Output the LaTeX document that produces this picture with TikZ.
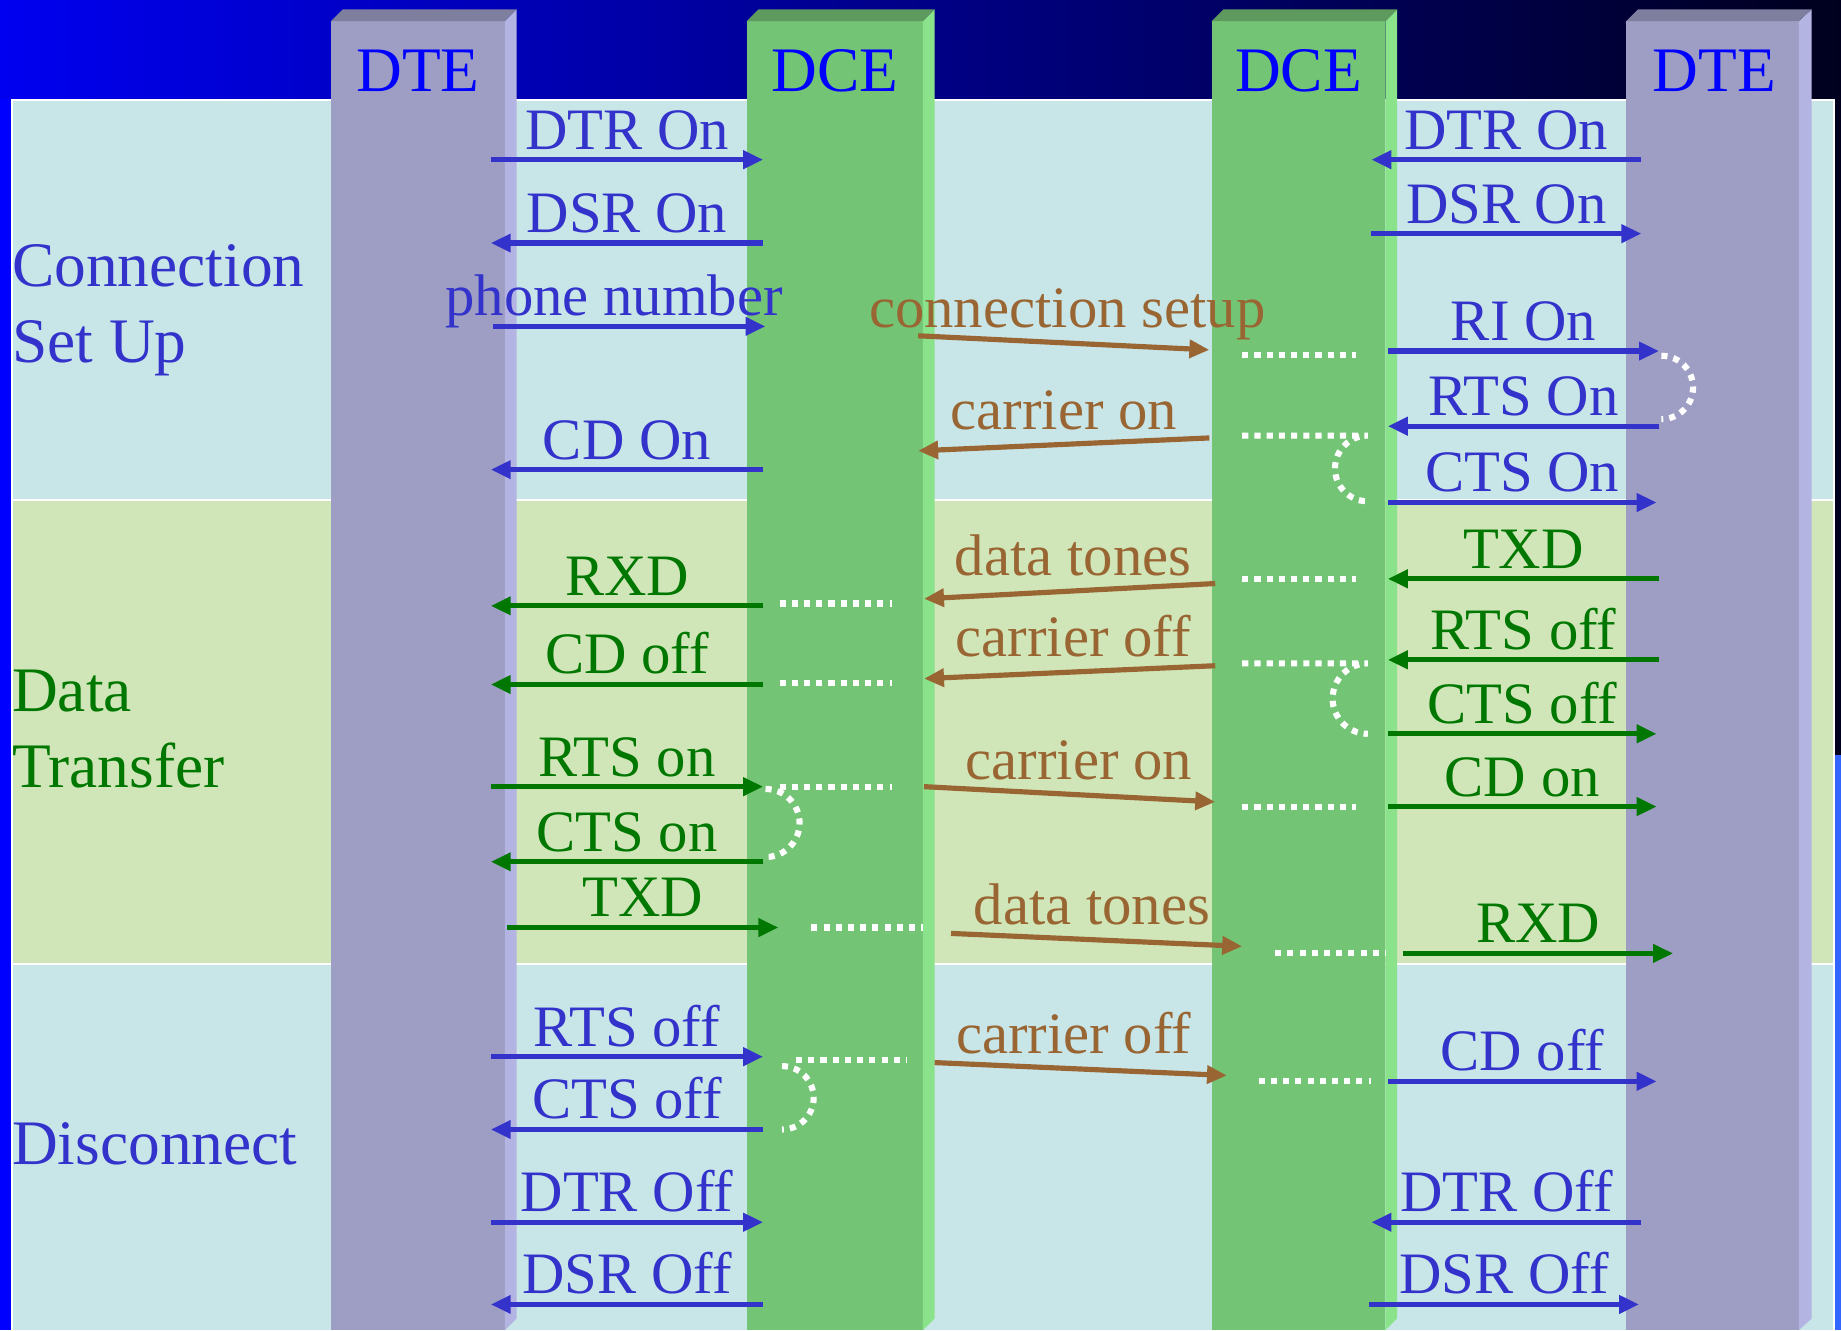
\documentclass[tikz,border=0pt]{standalone}
\usepackage{fontspec}
\setmainfont{Liberation Serif}
\usetikzlibrary{arrows.meta}

\definecolor{hdrblue}{HTML}{0000F0}
\definecolor{hdrmid}{HTML}{0000C0}
\definecolor{hdrdark}{HTML}{00001E}
\definecolor{edgeblue}{HTML}{3366FF}
\definecolor{hdrtext}{HTML}{0000FF}
\definecolor{bandcyan}{HTML}{C8E6E8}
\definecolor{bandgreen}{HTML}{D0E6B8}
\definecolor{dtefront}{HTML}{9E9EC4}
\definecolor{dteside}{HTML}{B4B4E2}
\definecolor{dtetop}{HTML}{7E7E9E}
\definecolor{dcefront}{HTML}{74C476}
\definecolor{dceside}{HTML}{8AE28A}
\definecolor{dcetop}{HTML}{5E9A5E}
\definecolor{sigblue}{HTML}{3333CC}
\definecolor{siggreen}{HTML}{007700}
\definecolor{sigbrown}{HTML}{996633}

\newcommand{\lblfont}{\fontsize{25}{30}\selectfont}
\newcommand{\hdrfont}{\fontsize{27}{32}\selectfont}

\begin{document}
\begin{tikzpicture}[x=0.5pt, y=-0.5pt,
  sig/.style={line width=2.2pt, -{Triangle[length=8.5pt,width=7.5pt]}},
  bluesig/.style={sig, sigblue},
  greensig/.style={sig, siggreen},
  brownsig/.style={sig, sigbrown},
  lbl/.style={anchor=base, inner sep=0pt, yshift=4.5pt, font=\lblfont},
  mlbl/.style={lbl, yshift=2pt},
  hdr/.style={anchor=base, inner sep=0pt, text=hdrtext, font=\hdrfont},
  sec/.style={anchor=base west, inner sep=0pt, font=\hdrfont},
  wdots/.style={white, line width=2.6pt, dash pattern=on 2.6pt off 2.6pt}]
\useasboundingbox (0,0) rectangle (1568,1133);

% background, header and bands
\shade[left color=hdrblue, middle color=hdrmid, right color=hdrdark] (0,0) rectangle (1568,84);
\fill[hdrtext] (0,84) rectangle (9,1133);
\fill[hdrdark] (1563,84) rectangle (1568,643);
\fill[edgeblue] (1563,643) rectangle (1568,1133);
\fill[white] (9,84) rectangle (1563,1133);
\fill[bandcyan] (11,86) rectangle (1561,425);
\fill[bandgreen] (11,427) rectangle (1561,820);
\fill[bandcyan] (11,822) rectangle (1561,1133);

% columns
\fill[dtefront] (282,18) rectangle (430,1133);
\fill[dteside] (430,18) -- (440,8) -- (440,1123) -- (430,1133) -- cycle;
\fill[dtetop] (282,18) -- (292,8) -- (440,8) -- (430,18) -- cycle;
\fill[dcefront] (636,18) rectangle (786,1133);
\fill[dceside] (786,18) -- (796,8) -- (796,1123) -- (786,1133) -- cycle;
\fill[dcetop] (636,18) -- (646,8) -- (796,8) -- (786,18) -- cycle;
\fill[dcefront] (1032,18) rectangle (1180,1133);
\fill[dceside] (1180,18) -- (1190,8) -- (1190,1123) -- (1180,1133) -- cycle;
\fill[dcetop] (1032,18) -- (1042,8) -- (1190,8) -- (1180,18) -- cycle;
\fill[dtefront] (1385,18) rectangle (1532,1133);
\fill[dteside] (1532,18) -- (1543,8) -- (1543,1123) -- (1532,1133) -- cycle;
\fill[dtetop] (1385,18) -- (1395,8) -- (1543,8) -- (1532,18) -- cycle;

\node[hdr] (dteL) at (356,78) {DTE};
\node[hdr] (dceL) at (711,78) {DCE};
\node[hdr] (dceR) at (1106,78) {DCE};
\node[hdr] (dteR) at (1460,78) {DTE};

% phase labels
\node[sec, sigblue] (conn1) at (10,244) {Connection};
\node[sec, sigblue] (conn2) at (10,309) {Set Up};
\node[sec, siggreen] (data1) at (10,606) {Data};
\node[sec, siggreen] (data2) at (10,671) {Transfer};
\node[sec, sigblue] (disc1) at (10,992) {Disconnect};

% connection set up
\coordinate (a1) at (418,136); \coordinate (b1) at (650,136);
\draw[bluesig] (a1) -- node[lbl]{DTR On} (b1);
\coordinate (a2) at (650,207); \coordinate (b2) at (418,207);
\draw[bluesig] (a2) -- node[lbl]{DSR On} (b2);
\coordinate (a3) at (420,278); \coordinate (b3) at (652,278);
\draw[bluesig] (a3) -- node[lbl, xshift=-6.5pt]{phone number} (b3);
\coordinate (a4) at (650,400); \coordinate (b4) at (418,400);
\draw[bluesig] (a4) -- node[lbl]{CD On} (b4);
\coordinate (a5) at (1398,136); \coordinate (b5) at (1168,136);
\draw[bluesig] (a5) -- node[lbl]{DTR On} (b5);
\coordinate (a6) at (1168,199); \coordinate (b6) at (1398,199);
\draw[bluesig] (a6) -- node[lbl]{DSR On} (b6);
\coordinate (a7) at (1182,299); \coordinate (b7) at (1413,299);
\draw[bluesig] (a7) -- node[lbl]{RI On} (b7);
\coordinate (a8) at (1413,363); \coordinate (b8) at (1182,363);
\draw[bluesig] (a8) -- node[lbl]{RTS On} (b8);
\coordinate (a9) at (1182,428); \coordinate (b9) at (1411,428);
\draw[bluesig] (a9) -- node[lbl]{CTS On} (b9);
\coordinate (a10) at (782,286); \coordinate (b10) at (1030,298);
\draw[brownsig] (a10) -- node[mlbl, xshift=1.5pt]{connection setup} (b10);
\coordinate (a11) at (1030,373); \coordinate (b11) at (782,384);
\draw[brownsig] (a11) -- node[mlbl]{carrier on} (b11);

% data transfer
\coordinate (a12) at (650,516); \coordinate (b12) at (418,516);
\draw[greensig] (a12) -- node[lbl]{RXD} (b12);
\coordinate (a13) at (650,583); \coordinate (b13) at (418,583);
\draw[greensig] (a13) -- node[lbl]{CD off} (b13);
\coordinate (a14) at (418,670); \coordinate (b14) at (650,670);
\draw[greensig] (a14) -- node[lbl]{RTS on} (b14);
\coordinate (a15) at (650,734); \coordinate (b15) at (418,734);
\draw[greensig] (a15) -- node[lbl]{CTS on} (b15);
\coordinate (a16) at (432,790); \coordinate (b16) at (663,790);
\draw[greensig] (a16) -- node[lbl]{TXD} (b16);
\coordinate (a17) at (1035,497); \coordinate (b17) at (787,510);
\draw[brownsig] (a17) -- node[mlbl, xshift=1.5pt]{data tones} (b17);
\coordinate (a18) at (1035,567); \coordinate (b18) at (787,578);
\draw[brownsig] (a18) -- node[mlbl, xshift=1.5pt]{carrier off} (b18);
\coordinate (a19) at (787,670); \coordinate (b19) at (1035,683);
\draw[brownsig] (a19) -- node[mlbl, xshift=4pt]{carrier on} (b19);
\coordinate (a20) at (810,795); \coordinate (b20) at (1058,806);
\draw[brownsig] (a20) -- node[mlbl, xshift=-2pt]{data tones} (b20);
\coordinate (a21) at (1413,493); \coordinate (b21) at (1182,493);
\draw[greensig] (a21) -- node[lbl]{TXD} (b21);
\coordinate (a22) at (1413,562); \coordinate (b22) at (1182,562);
\draw[greensig] (a22) -- node[lbl]{RTS off} (b22);
\coordinate (a23) at (1182,625); \coordinate (b23) at (1411,625);
\draw[greensig] (a23) -- node[lbl]{CTS off} (b23);
\coordinate (a24) at (1182,687); \coordinate (b24) at (1411,687);
\draw[greensig] (a24) -- node[lbl]{CD on} (b24);
\coordinate (a25) at (1195,812); \coordinate (b25) at (1425,812);
\draw[greensig] (a25) -- node[lbl]{RXD} (b25);

% disconnect
\coordinate (a26) at (418,900); \coordinate (b26) at (650,900);
\draw[bluesig] (a26) -- node[lbl]{RTS off} (b26);
\coordinate (a27) at (650,962); \coordinate (b27) at (418,962);
\draw[bluesig] (a27) -- node[lbl]{CTS off} (b27);
\coordinate (a28) at (418,1041); \coordinate (b28) at (650,1041);
\draw[bluesig] (a28) -- node[lbl]{DTR Off} (b28);
\coordinate (a29) at (650,1111); \coordinate (b29) at (418,1111);
\draw[bluesig] (a29) -- node[lbl]{DSR Off} (b29);
\coordinate (a30) at (796,905); \coordinate (b30) at (1045,916);
\draw[brownsig] (a30) -- node[mlbl, xshift=-3pt]{carrier off} (b30);
\coordinate (a31) at (1182,921); \coordinate (b31) at (1411,921);
\draw[bluesig] (a31) -- node[lbl]{CD off} (b31);
\coordinate (a32) at (1398,1041); \coordinate (b32) at (1168,1041);
\draw[bluesig] (a32) -- node[lbl]{DTR Off} (b32);
\coordinate (a33) at (1166,1111); \coordinate (b33) at (1396,1111);
\draw[bluesig] (a33) -- node[lbl]{DSR Off} (b33);

% relays inside the modems
\draw[wdots] (1058,302) -- (1155,302);
\draw[wdots] (1058,371) -- (1165,371) arc[start angle=-90, end angle=-270, radius=28];
\draw[wdots] (1415,303) arc[start angle=-90, end angle=90, radius=27];
\draw[wdots] (664,514) -- (760,514);
\draw[wdots] (664,582) -- (760,582);
\draw[wdots] (1058,493) -- (1155,493);
\draw[wdots] (1058,565) -- (1165,565) arc[start angle=-90, end angle=-270, radius=30];
\draw[wdots] (664,670) -- (760,670);
\draw[wdots] (652,672) arc[start angle=-90, end angle=90, radius=29];
\draw[wdots] (1058,687) -- (1155,687);
\draw[wdots] (691,790) -- (786,790);
\draw[wdots] (1086,812) -- (1180,812);
\draw[wdots] (678,903) -- (772,903);
\draw[wdots] (666,908) arc[start angle=-90, end angle=90, radius=27];
\draw[wdots] (1072,921) -- (1168,921);
\end{tikzpicture}
\end{document}
